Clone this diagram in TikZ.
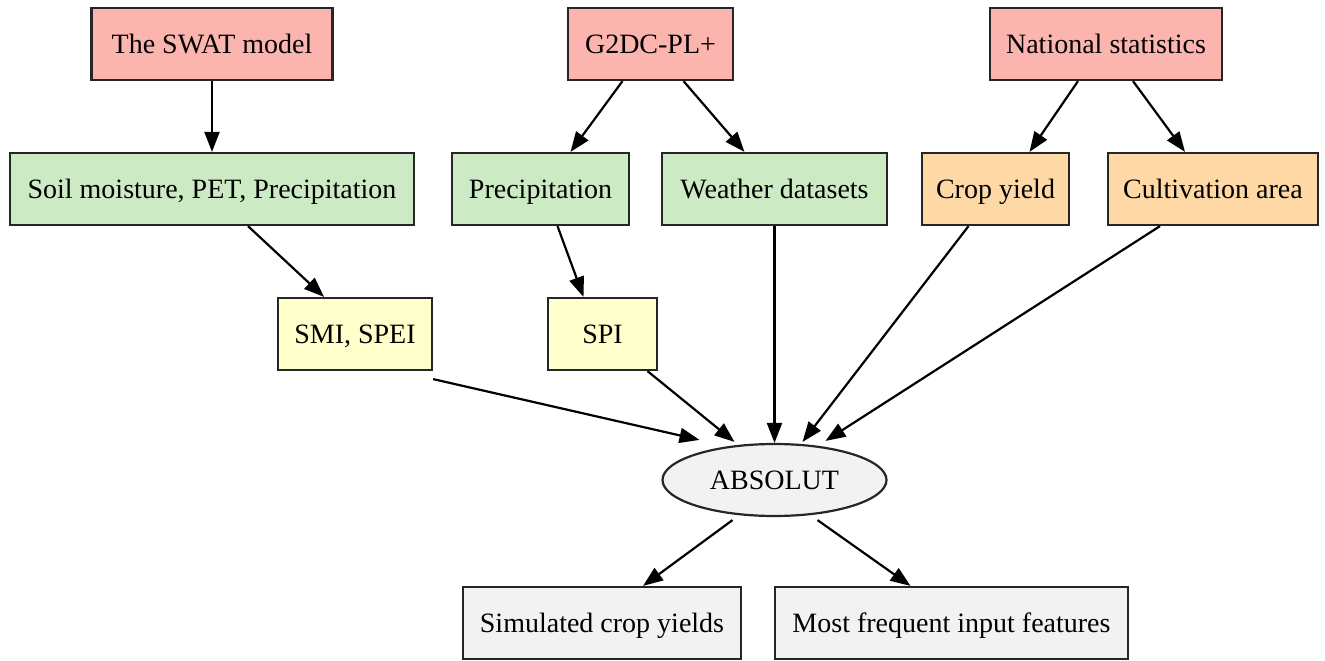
\documentclass[tikz,border=0pt]{standalone}
\usepackage{fontspec}
\setmainfont{Liberation Serif}
\usetikzlibrary{shapes.geometric,arrows.meta}
\definecolor{cred}{HTML}{FBB4AE}
\definecolor{cgreen}{HTML}{CCEBC5}
\definecolor{corange}{HTML}{FED9A6}
\definecolor{cyellow}{HTML}{FFFFCC}
\definecolor{cgray}{HTML}{F2F2F2}
\tikzset{
  box/.style={draw=black!85, line width=2.2pt, rectangle, inner sep=0pt, minimum height=72pt,
    text height=18pt, text depth=0pt, font=\fontsize{28}{32}\selectfont},
  conn/.style={line width=2.2pt, draw=black, -{Triangle[length=20pt,width=15pt]}},
}
\begin{document}
\begin{tikzpicture}[x=1pt,y=-1pt]
\useasboundingbox (0,0) rectangle (1325,661);
\node[box, fill=cred, minimum width=241pt] (swat) at (212,44) {The SWAT model};
\node[box, fill=cred, minimum width=165pt] (g2dc) at (650.5,44) {G2DC-PL+};
\node[box, fill=cred, minimum width=232pt] (nat) at (1106,44) {National statistics};
\node[box, fill=cgreen, minimum width=404pt] (soil) at (212,189) {Soil moisture, PET, Precipitation};
\node[box, fill=cgreen, minimum width=177pt] (prec) at (540.5,189) {Precipitation};
\node[box, fill=cgreen, minimum width=225pt] (wea) at (774.5,189) {Weather datasets};
\node[box, fill=corange, minimum width=147pt] (crop) at (995.5,189) {Crop yield};
\node[box, fill=corange, minimum width=210pt] (cult) at (1213,189) {Cultivation area};
\node[box, fill=cyellow, minimum width=154pt] (smi) at (355,334) {SMI, SPEI};
\node[box, fill=cyellow, minimum width=109pt] (spi) at (602.5,334) {SPI};
\node[box, ellipse, fill=cgray, minimum width=224pt, minimum height=72pt] (abs) at (774.5,480) {ABSOLUT};
\node[box, fill=cgray, minimum width=278pt] (sim) at (602,623) {Simulated crop yields};
\node[box, fill=cgray, minimum width=353pt] (most) at (951.5,623) {Most frequent input features};
\draw[conn] (swat.south) -- (soil.north);
\draw[conn] ([xshift=-28pt]g2dc.south) -- ([xshift=30pt]prec.north);
\draw[conn] ([xshift=33pt]g2dc.south) -- ([xshift=-30pt]wea.north);
\draw[conn] ([xshift=-28pt]nat.south) -- ([xshift=34pt]crop.north);
\draw[conn] ([xshift=27pt]nat.south) -- ([xshift=-28pt]cult.north);
\draw[conn] ([xshift=36pt]soil.south) -- ([xshift=-31pt]smi.north);
\draw[conn] ([xshift=17pt]prec.south) -- ([xshift=-19pt]spi.north);
\draw[conn] ([yshift=-8pt]smi.south east) -- ([xshift=-75pt,yshift=3pt]abs.north);
\draw[conn] ([xshift=45pt]spi.south) -- ([xshift=-40pt,yshift=1pt]abs.north);
\draw[conn] (wea.south) -- (abs.north);
\draw[conn] ([xshift=-27pt]crop.south) -- ([xshift=28pt,yshift=1pt]abs.north);
\draw[conn] ([xshift=-53pt]cult.south) -- ([xshift=51pt,yshift=2pt]abs.north);
\draw[conn] ([xshift=-42pt,yshift=-3pt]abs.south) -- ([xshift=41pt]sim.north);
\draw[conn] ([xshift=43pt,yshift=-3pt]abs.south) -- ([xshift=-41pt]most.north);
\end{tikzpicture}
\end{document}
